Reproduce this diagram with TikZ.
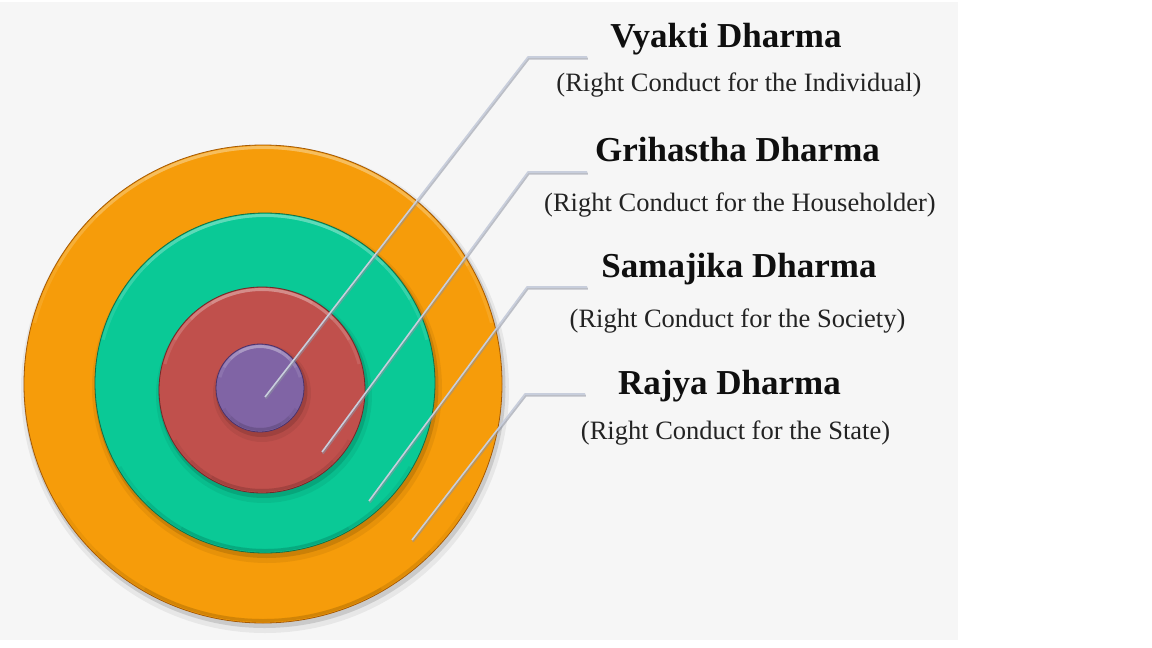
\documentclass[tikz,border=0pt]{standalone}
\usepackage{fontspec}
\setmainfont{Liberation Serif}
\definecolor{bgc}{RGB}{246,246,246}
\definecolor{orfill}{RGB}{246,156,10}
\definecolor{oredge}{RGB}{165,90,5}
\definecolor{grfill}{RGB}{10,201,150}
\definecolor{gredge}{RGB}{20,110,70}
\definecolor{rdfill}{RGB}{192,80,76}
\definecolor{rdedge}{RGB}{115,40,40}
\definecolor{pufill}{RGB}{128,100,165}
\definecolor{puedge}{RGB}{75,50,105}
\definecolor{leadc}{RGB}{200,206,220}
\definecolor{leadsh}{RGB}{140,145,160}
\definecolor{txtc}{RGB}{15,15,15}
\definecolor{subc}{RGB}{35,35,35}
\newcommand\mydisc[6]{%
  \pgfmathsetmacro\hr{#4-2.5}%
  \fill[black,opacity=0.06] (#2+2,#3+5) circle[radius=#4pt+5pt];
  \fill[black,opacity=0.12] (#2+1.5,#3+3) circle[radius=#4pt+2pt];
  \node[circle,fill=#5,draw=#6,line width=0.8pt,minimum size=2*#4pt,inner sep=0pt] (#1) at (#2,#3) {};
  \foreach \sa/\ea in {60/120,45/135,30/150,15/165}{
    \draw[white,opacity=0.1,line width=3pt] (#1.center) ++(\sa:\hr pt) arc[start angle=\sa,end angle=\ea,radius=\hr pt];
  }
  \foreach \sa/\ea in {240/300,225/315,210/330}{
    \draw[black,opacity=0.05,line width=3pt] (#1.center) ++(\sa:\hr pt) arc[start angle=\sa,end angle=\ea,radius=\hr pt];
  }
}
\begin{document}
\begin{tikzpicture}[x=1pt,y=-1pt,
  ttl/.style={font=\fontsize{35}{40}\selectfont\bfseries,text=txtc,inner sep=0pt,anchor=base},
  sub/.style={font=\fontsize{26.5}{30}\selectfont,text=subc,inner sep=0pt,anchor=base},
  leader/.style={draw=leadc,line width=1.6pt,line join=round},
  leadershadow/.style={draw=leadsh,opacity=0.55,line width=2pt,line join=round,transform canvas={shift={(0.8pt,-1.6pt)}}}]
\useasboundingbox (0,0) rectangle (1152,648);
\fill[white] (0,0) rectangle (1152,648);
\fill[bgc] (0,2) rectangle (958,640);

\mydisc{rajya}{263}{384}{239}{orfill}{oredge}
\mydisc{samajika}{265}{383}{170}{grfill}{gredge}
\mydisc{grihastha}{262}{390}{103}{rdfill}{rdedge}
\mydisc{vyakti}{260}{388}{44}{pufill}{puedge}

% leader coordinates
\coordinate (v0) at (265,397); \coordinate (v1) at (528,57);  \coordinate (v2) at (587,57);
\coordinate (g0) at (322,452); \coordinate (g1) at (528,172); \coordinate (g2) at (587,172);
\coordinate (s0) at (369,501); \coordinate (s1) at (527,287); \coordinate (s2) at (587,287);
\coordinate (r0) at (412,540); \coordinate (r1) at (525,394); \coordinate (r2) at (585,394);

\foreach \p in {v,g,s,r}{
  \draw[leadershadow] (\p0) -- (\p1) -- (\p2);
  \draw[leader] (\p0) -- (\p1) -- (\p2);
}

\node[ttl] (vt) at (726,47) {Vyakti Dharma};
\node[sub] (vs) at (739,91) {(Right Conduct for the Individual)};
\node[ttl] (gt) at (737.5,161) {Grihastha Dharma};
\node[sub] (gs) at (740,211) {(Right Conduct for the Householder)};
\node[ttl] (st) at (739,277) {Samajika Dharma};
\node[sub] (ss) at (737.5,327) {(Right Conduct for the Society)};
\node[ttl] (rt) at (729.5,394) {Rajya Dharma};
\node[sub] (rs) at (735.5,439) {(Right Conduct for the State)};
\end{tikzpicture}
\end{document}
